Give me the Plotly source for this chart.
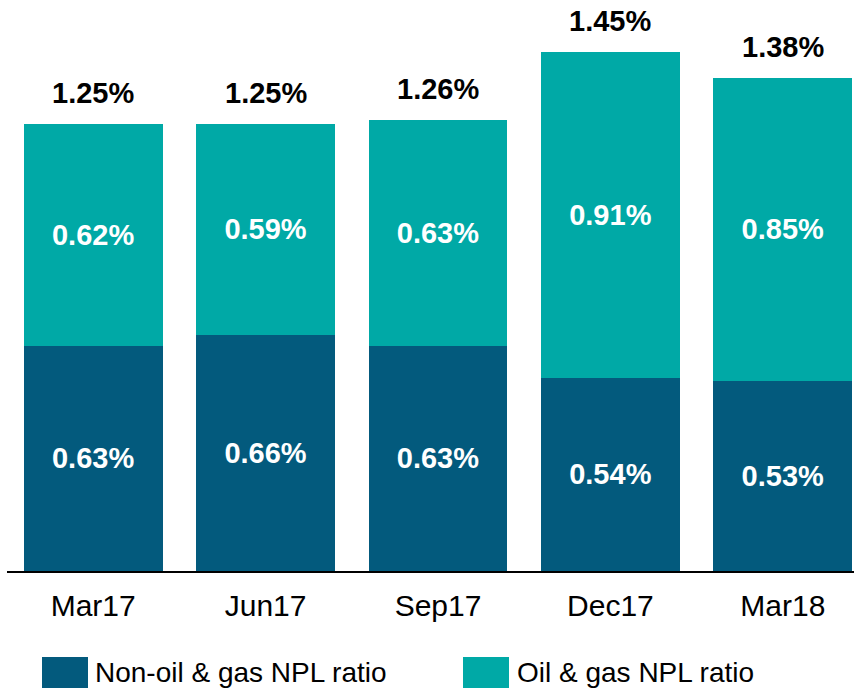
import plotly.graph_objects as go

categories = ["Mar17", "Jun17", "Sep17", "Dec17", "Mar18"]
non_oil = [0.63, 0.66, 0.63, 0.54, 0.53]
oil_gas = [0.62, 0.59, 0.63, 0.91, 0.85]
totals = [1.25, 1.25, 1.26, 1.45, 1.38]
series_names = ["Non-oil & gas NPL ratio", "Oil & gas NPL ratio"]
colors = ["#035A7D", "#00A9A6"]

FONT = "Liberation Sans, Arial, sans-serif"
W, H = 854, 688
ML, MR, MT, MB = 7, 0, 0, 117
plot_w = W - ML - MR
plot_h = H - MT - MB

fig = go.Figure()
for name, vals, col in zip(series_names, [non_oil, oil_gas], colors):
    fig.add_trace(go.Bar(
        x=categories, y=vals, name=name,
        marker=dict(color=col, line=dict(width=0)),
        text=[f"{v:.2f}%" for v in vals],
        texttemplate="<b>%{text}</b>",
        textposition="inside", insidetextanchor="middle",
        textangle=0, constraintext="none",
        insidetextfont=dict(family=FONT, size=29, color="white"),
        showlegend=False, hoverinfo="skip",
    ))

for c, t in zip(categories, totals):
    fig.add_annotation(x=c, y=t, text=f"<b>{t:.2f}%</b>", showarrow=False,
                       yanchor="middle", yshift=31,
                       font=dict(family=FONT, size=29, color="black"))

# legend drawn manually
sw = [(42, 88, 93), (463, 509, 515)]
for (x0, x1, tx), name, col in zip(sw, series_names, colors):
    fig.add_shape(type="rect", xref="paper", yref="paper",
                  x0=(x0 - ML) / plot_w, x1=(x1 - ML) / plot_w,
                  y0=(plot_h - 657) / plot_h, y1=(plot_h - 692) / plot_h,
                  fillcolor=col, line=dict(width=0), layer="above")
    fig.add_annotation(xref="paper", yref="paper", x=(tx - ML) / plot_w,
                       y=(plot_h - 673) / plot_h, xanchor="left", yanchor="middle",
                       text=name, showarrow=False,
                       font=dict(family=FONT, size=28, color="black"))

fig.update_layout(
    barmode="stack", bargap=0.195,
    width=W, height=H,
    margin=dict(l=ML, r=MR, t=MT, b=MB, pad=0),
    plot_bgcolor="white", paper_bgcolor="white",
    font=dict(family=FONT, color="black"),
    xaxis=dict(range=[-0.5, -0.5 + plot_w / 172.4], showline=True, linecolor="black",
               linewidth=2, ticks="outside", ticklen=7, tickcolor="rgba(0,0,0,0)",
               tickfont=dict(family=FONT, size=30, color="black"), showgrid=False,
               fixedrange=True),
    yaxis=dict(range=[0, plot_h / 357.6], visible=False, showgrid=False, fixedrange=True),
)

fig.write_html("out.html", config={"displayModeBar": False},
               post_script="document.body.style.margin='0';document.body.style.overflow='hidden';")
